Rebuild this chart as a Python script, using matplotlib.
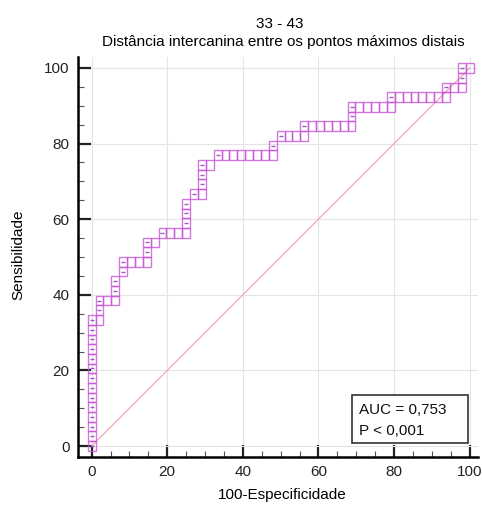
import matplotlib

matplotlib.use("Agg")
import matplotlib.pyplot as plt
from matplotlib.patches import Rectangle
from matplotlib.ticker import MultipleLocator

plt.rcParams["font.family"] = ["Liberation Sans", "DejaVu Sans"]

title_top = "33 - 43"
title_sub = "Distância intercanina entre os pontos máximos distais"
x_label = "100-Especificidade"
y_label = "Sensibilidade"
auc_text = "AUC = 0,753"
p_text = "P < 0,001"
ticks = [0, 20, 40, 60, 80, 100]

# sample sizes (step of the empirical ROC curve)
n_neg = 48
n_pos = 39

# path of the ROC curve, in counts of false positives / true positives
roc_fp = [0, 0, 0, 0, 0, 0, 0, 0, 0, 0, 0, 0, 0, 0,
          1, 1, 1, 2, 3, 3, 3, 4, 4, 5, 6, 7, 7, 7, 8,
          9, 10, 11, 12, 12, 12, 12, 13, 14, 14, 14, 14, 15,
          16, 17, 18, 19, 20, 21, 22, 23, 23,
          24, 25, 26, 27, 27, 28, 29, 30, 31, 32, 33, 33, 33,
          34, 35, 36, 37, 38, 38, 39, 40, 41, 42, 43, 44, 45,
          45, 46, 47, 47, 47, 48]
roc_tp = [0, 1, 2, 3, 4, 5, 6, 7, 8, 9, 10, 11, 12, 13,
          13, 14, 15, 15, 15, 16, 17, 18, 19, 19, 19, 19, 20, 21, 21,
          22, 22, 22, 22, 23, 24, 25, 26, 26, 27, 28, 29, 29,
          30, 30, 30, 30, 30, 30, 30, 30, 31,
          32, 32, 32, 32, 33, 33, 33, 33, 33, 33, 33, 34, 35,
          35, 35, 35, 35, 35, 36, 36, 36, 36, 36, 36, 36, 36,
          37, 37, 37, 38, 39, 39]

dx = 100 / n_neg
dy = 100 / n_pos
xs = [i * dx for i in roc_fp]
ys = [j * dy for j in roc_tp]

W, H = 482, 507
fig = plt.figure(figsize=(W / 100, H / 100), dpi=100)
ax = fig.add_axes([78 / W, 1 - 457 / H, 400 / W, 400 / H])
ax.set_xlim(-3.6, 102.2)
ax.set_ylim(-2.9, 102.9)

ax.set_xticks(ticks)
ax.set_yticks(ticks)
ax.xaxis.set_minor_locator(MultipleLocator(5))
ax.yaxis.set_minor_locator(MultipleLocator(5))
ax.grid(True, which="major", color="#e4e4e4", lw=0.8, zorder=0)
ax.tick_params(which="major", direction="in", length=9, width=1.6, pad=6,
               labelsize=11, color="#222222", labelcolor="#222222")
ax.tick_params(which="minor", direction="in", length=4, width=0.8, color="#555555")
for side in ("top", "right"):
    ax.spines[side].set_visible(False)
for side in ("left", "bottom"):
    ax.spines[side].set_linewidth(1.8)

# reference diagonal
ax.plot([0, 100], [0, 100], color="#f2a7b5", lw=0.9, zorder=2)

# one box per step of the curve
for x, y in zip(xs, ys):
    ax.add_patch(Rectangle((x - dx / 2, y - dy / 2), dx, dy, fill=False,
                           ec="#c955d8", lw=1.0, alpha=0.8, zorder=3))

# small marks where sensitivity rises (cut-off points)
dot_x = [xs[0]] + [xs[k] for k in range(1, len(ys)) if ys[k] > ys[k - 1]]
dot_y = [ys[0]] + [ys[k] for k in range(1, len(ys)) if ys[k] > ys[k - 1]]
ax.plot(dot_x, dot_y, ls="none", marker="_", ms=2.5, mew=1.0,
        color="#7b3aa8", alpha=0.8, zorder=4)

# AUC box
ax.add_patch(Rectangle((0.685, 0.035), 0.29, 0.12, transform=ax.transAxes,
                       fill=True, fc="white", ec="#333333", lw=1.2, zorder=5))
ax.text(0.7025, 0.1175, auc_text, transform=ax.transAxes, ha="left",
        va="center", fontsize=11, color="#111111", zorder=6)
ax.text(0.7025, 0.065, p_text, transform=ax.transAxes, ha="left",
        va="center", fontsize=11, color="#111111", zorder=6)

fig.text(280 / W, 1 - 24 / H, title_top, ha="center", va="center", fontsize=11)
fig.text(283 / W, 1 - 42 / H, title_sub, ha="center", va="center", fontsize=11)
fig.text(282 / W, 1 - 495 / H, x_label, ha="center", va="center", fontsize=11)
fig.text(18 / W, 1 - 255 / H, y_label, ha="center", va="center", fontsize=11,
         rotation=90)

fig.savefig("out.png", dpi=100)
